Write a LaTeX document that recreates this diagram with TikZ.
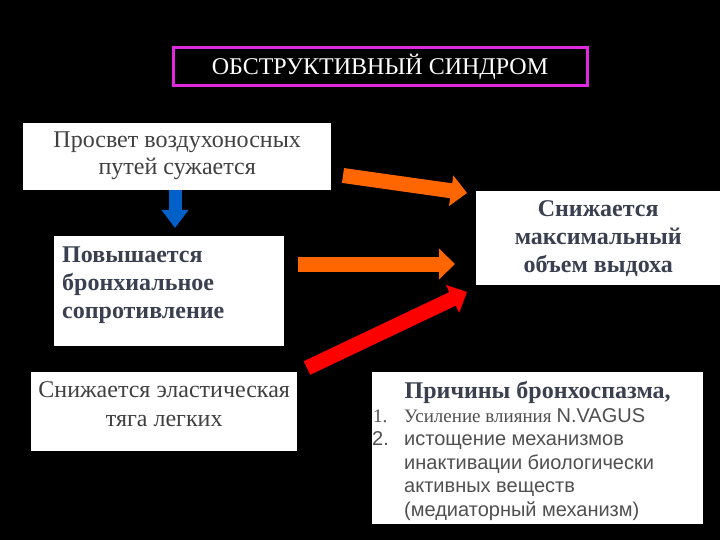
\documentclass[tikz,border=0pt]{standalone}
\usepackage{fontspec}
\setmainfont{Liberation Serif}
\setsansfont{Liberation Sans}
\usetikzlibrary{arrows.meta,positioning}
\definecolor{boxtext}{RGB}{64,64,64}
\definecolor{boldtext}{RGB}{58,64,80}
\definecolor{listtext}{RGB}{80,80,80}
\definecolor{arrorange}{RGB}{255,102,0}
\definecolor{arrred}{RGB}{255,0,0}
\definecolor{arrblue}{RGB}{0,96,200}
\definecolor{titlemag}{RGB}{225,40,225}
% width, height, first baseline, lines
\newcommand{\boxlines}[4]{\parbox[t][#2][t]{#1}{\centering\rule{0pt}{#3}#4}}
\tikzset{
	whitebox/.style = {rectangle, fill=white, inner sep=0pt, anchor=north west,
		text=boxtext},% simple box
	boldbox/.style = {whitebox, text=boldtext},% bold box
	bigarrow/.style = {line width=15pt, -{Triangle[width=30pt,length=16pt]}},
	downarrow/.style = {arrblue, line width=13pt, -{Triangle[width=26pt,length=18pt]}}
}
\begin{document}
\begin{tikzpicture}[x=1pt,y=-1pt]
\fill[black] (0,0) rectangle (720,540);
\useasboundingbox (0,0) rectangle (720,540);
% title
\node [rectangle, draw=titlemag, line width=3pt, fill=black, text=white,
	minimum width=414pt, minimum height=38pt,
	font=\fontsize{24}{26}\selectfont] (title) at (380,67) {ОБСТРУКТИВНЫЙ СИНДРОМ};
% boxes
\node [whitebox, font=\fontsize{24}{27}\selectfont] (lumen) at (23,123)
	{\boxlines{308pt}{67pt}{24pt}{Просвет воздухоносных\\путей сужается}};
\node [boldbox, inner xsep=8pt, font=\fontsize{24}{28}\selectfont\bfseries] (resist) at (54,236)
	{\boxlines{214pt}{110pt}{26pt}{\raggedright Повышается\\бронхиальное\\сопротивление}};
\node [whitebox, font=\fontsize{24}{29}\selectfont] (elastic) at (31,372)
	{\boxlines{266pt}{79pt}{25pt}{Снижается эластическая\\тяга легких}};
\node [boldbox, font=\fontsize{24}{28}\selectfont\bfseries] (volume) at (476,191)
	{\boxlines{244pt}{94pt}{25pt}{Снижается\\максимальный\\объем выдоха}};
\node [whitebox, text=listtext, font=\fontsize{20}{23.5}\selectfont] (spasm) at (372,372)
	{\boxlines{331pt}{152pt}{26pt}{\raggedright
	 \makebox[331pt]{\fontsize{24}{23.5}\selectfont\bfseries\color{boldtext}Причины бронхоспазма,}\\[0.5pt]
	 {\fontsize{19}{23.5}\selectfont\makebox[32pt][l]{\hspace{1pt}1.}Усиление влияния} {\sffamily N.VAGUS}\\
	 \sffamily\makebox[32pt][l]{2.}истощение механизмов\\
	 \hspace*{32pt}инактивации биологически\\
	 \hspace*{32pt}активных веществ\\
	 \hspace*{32pt}(медиаторный механизм)}};
% arrows
\coordinate (a1s) at (343,175.5);
\coordinate (a1e) at (467,193);
\coordinate (a2s) at (298,264);
\coordinate (a2e) at (455,264);
\coordinate (a3s) at (307,368);
\coordinate (a3e) at (467,292);
\coordinate (bs) at (lumen.south -| 175,0);
\coordinate (be) at (175,228);
\draw [bigarrow, arrorange] (a1s) -- (a1e);
\draw [bigarrow, arrorange] (a2s) -- (a2e);
\draw [bigarrow, arrred] (a3s) -- (a3e);
\draw [downarrow] (bs) -- (be);
\end{tikzpicture}
\end{document}
